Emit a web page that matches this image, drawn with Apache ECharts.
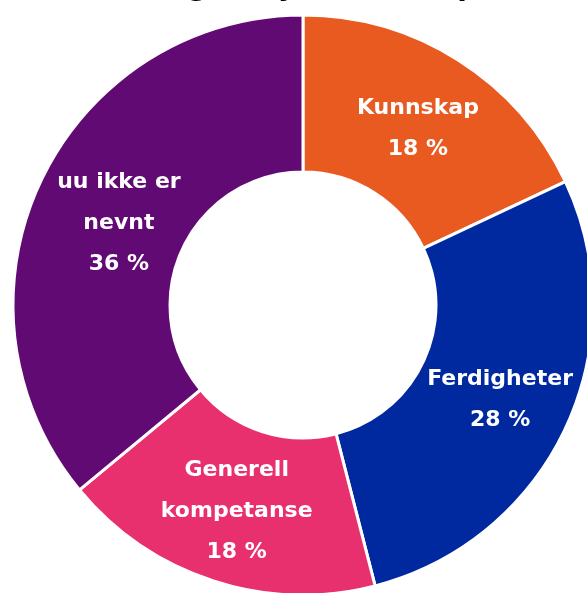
<!DOCTYPE html>
<html>
<head>
<meta charset="utf-8">
<script src="https://cdn.jsdelivr.net/npm/echarts@6/dist/echarts.min.js"></script>
<style>
  html, body { margin: 0; padding: 0; background: #fff; }
  #chart { width: 587px; height: 593px; }
</style>
</head>
<body>
<div id="chart"></div>
<script>
// kategorier og andeler (prosent)
var categories = ["Kunnskap", "Ferdigheter", "Generell\nkompetanse", "uu ikke er\nnevnt"];
var values = [18, 28, 18, 36];
var colors = ["#E95A21", "#0029A0", "#E8306F", "#620A73"];
// litt justering av etikettene
var labelOffsets = [[0, 5], [3, 3], [0, 2], [10, 10]];

var myChart = echarts.init(document.getElementById("chart"));

var option = {
  title: {
    // tittelen er nesten helt kuttet i bildet
    text: "Hvor i læringsutbyttet uu er plassert",
    left: "center",
    top: -31,
    textStyle: {
      color: "#000",
      fontSize: 28,
      fontWeight: "bold",
      fontFamily: "DejaVu Sans"
    }
  },
  series: [
    {
      type: "pie",
      center: [303, 305],
      radius: [133, 290],
      startAngle: 90,
      clockwise: true,
      animation: false,
      itemStyle: {
        borderColor: "#fff",
        borderWidth: 3
      },
      label: {
        show: true,
        position: "inside",
        formatter: function (p) {
          return p.name + "\n" + p.value + " %";
        },
        color: "#fff",
        fontFamily: "DejaVu Sans",
        fontWeight: "bold",
        fontSize: 22,
        lineHeight: 41
      },
      labelLine: { show: false },
      data: categories.map(function (c, i) {
        return {
          name: c,
          value: values[i],
          itemStyle: { color: colors[i] },
          label: { offset: labelOffsets[i] }
        };
      })
    }
  ]
};

myChart.setOption(option);
</script>
</body>
</html>
